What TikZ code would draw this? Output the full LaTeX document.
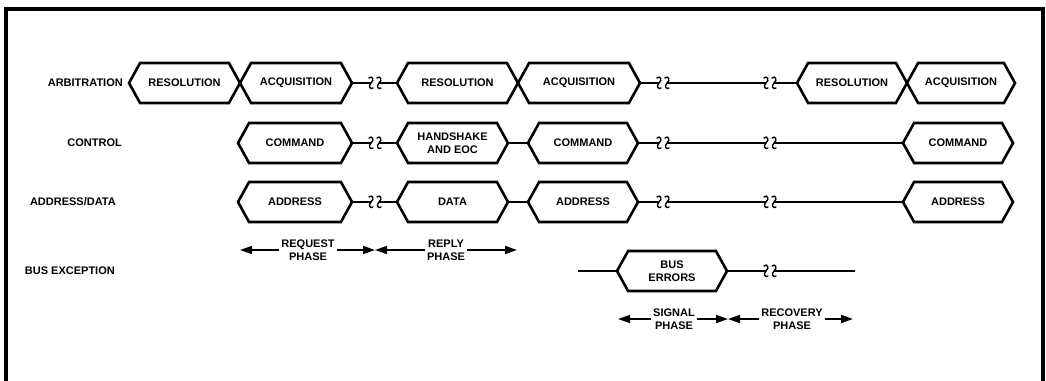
\documentclass[tikz,border=0pt]{standalone}
\usepackage{fontspec}
\setmainfont{Liberation Sans}
\usetikzlibrary{arrows.meta,positioning,shapes.symbols}
\newcommand\lbl{\fontsize{11}{13}\selectfont\bfseries}
\tikzset{
  hexbox/.style={signal, signal to=west and east, signal pointer angle=122,
                 draw, line width=2.6pt, minimum height=40, inner sep=0pt,
                 outer sep=0pt, align=center, font=\lbl},
  bus/.style={line width=1.6pt},
  rowlabel/.style={font=\lbl, anchor=east, inner sep=0pt, text depth=0pt},
  phase/.style={font=\lbl, align=center, inner sep=2pt},
  span/.style={-{Triangle[length=12pt,width=8pt]}, line width=1.6pt},
  gap/.pic={
    \draw[line width=1.4pt,line cap=round]
      (-6,-5) .. controls (-3,-8) and (0,-3) .. (-4,0)
      .. controls (-7,3) and (-5,7) .. (-2,5);
    \draw[line width=1.4pt,line cap=round]
      (2,-5) .. controls (5,-8) and (8,-3) .. (4,0)
      .. controls (1,3) and (3,7) .. (6,5);
    \coordinate (-in) at (-4,0);
    \coordinate (-out) at (4,0);
  }
}

\begin{document}
\begin{tikzpicture}[x=1pt,y=-1pt]
    \useasboundingbox (0,0) rectangle (1046,380);
    % frame, open at the bottom
    \draw[line width=4pt] (6,385) -- (6,9) -- (1042.5,9) -- (1042.5,385);

    % row labels
    \node[rowlabel] (arb) at (123,83) {ARBITRATION};
    \node[rowlabel] (ctl) at (122,143) {CONTROL};
    \node[rowlabel] (adr) at (116,202) {ADDRESS/DATA};
    \node[rowlabel] (exc) at (115,271) {BUS EXCEPTION};

    % arbitration
    \node[hexbox, minimum width=111] (res1) at (184.5,83) {RESOLUTION};
    \node[hexbox, minimum width=112, anchor=west] (acq1) at (res1.east) {ACQUISITION};
    \node[hexbox, minimum width=121] (res2) at (457.5,83) {RESOLUTION};
    \node[hexbox, minimum width=122, anchor=west] (acq2) at (res2.east) {ACQUISITION};
    \node[hexbox, minimum width=110] (res3) at (852,83) {RESOLUTION};
    \node[hexbox, minimum width=108, anchor=west] (acq3) at (res3.east) {ACQUISITION};
    \pic (ga1) at (375,83) {gap};
    \pic (ga2) at (663,83) {gap};
    \pic (ga3) at (770,83) {gap};
    \draw[bus] (acq1.east) -- (ga1-in) (ga1-out) -- (res2.west);
    \draw[bus] (acq2.east) -- (ga2-in) (ga2-out) -- (ga3-in) (ga3-out) -- (res3.west);

    % control
    \node[hexbox, minimum width=114] (cmd1) at (295,143) {COMMAND};
    \node[hexbox, minimum width=111] (hsk) at (452.5,143) {HANDSHAKE\\AND EOC};
    \node[hexbox, minimum width=110] (cmd2) at (583,143) {COMMAND};
    \node[hexbox, minimum width=110] (cmd3) at (958,143) {COMMAND};
    \pic (gc1) at (375,143) {gap};
    \pic (gc2) at (663,143) {gap};
    \pic (gc3) at (770,143) {gap};
    \draw[bus] (cmd1.east) -- (gc1-in) (gc1-out) -- (hsk.west);
    \draw[bus] (hsk.east) -- (cmd2.west);
    \draw[bus] (cmd2.east) -- (gc2-in) (gc2-out) -- (gc3-in) (gc3-out) -- (cmd3.west);

    % address/data
    \node[hexbox, minimum width=114] (adr1) at (295,202) {ADDRESS};
    \node[hexbox, minimum width=111] (dat) at (452.5,202) {DATA};
    \node[hexbox, minimum width=110] (adr2) at (583,202) {ADDRESS};
    \node[hexbox, minimum width=110] (adr3) at (958,202) {ADDRESS};
    \pic (gd1) at (375,202) {gap};
    \pic (gd2) at (663,202) {gap};
    \pic (gd3) at (770,202) {gap};
    \draw[bus] (adr1.east) -- (gd1-in) (gd1-out) -- (dat.west);
    \draw[bus] (dat.east) -- (adr2.west);
    \draw[bus] (adr2.east) -- (gd2-in) (gd2-out) -- (gd3-in) (gd3-out) -- (adr3.west);

    % request / reply
    \coordinate (reqL) at (240,250);
    \coordinate (rmid) at (375,250);
    \coordinate (repR) at (517,250);
    \node[phase] (req) at (308,250) {REQUEST\\PHASE};
    \node[phase] (rep) at (446,250) {REPLY\\PHASE};
    \draw[span] (req) -- (reqL);
    \draw[span] (req) -- (rmid);
    \draw[span] (rep) -- (rmid);
    \draw[span] (rep) -- (repR);

    % bus exception
    \coordinate (eL) at (578,271);
    \coordinate (eR) at (855,271);
    \node[hexbox, minimum width=110] (err) at (672,271) {BUS\\ERRORS};
    \pic (ge) at (770,271) {gap};
    \draw[bus] (eL) -- (err.west);
    \draw[bus] (err.east) -- (ge-in) (ge-out) -- (eR);

    % signal / recovery
    \coordinate (sigL) at (618,319);
    \coordinate (smid) at (728,319);
    \coordinate (recR) at (853,319);
    \node[phase] (sig) at (674,319) {SIGNAL\\PHASE};
    \node[phase] (rec) at (792,319) {RECOVERY\\PHASE};
    \draw[span] (sig) -- (sigL);
    \draw[span] (sig) -- (smid);
    \draw[span] (rec) -- (smid);
    \draw[span] (rec) -- (recR);
\end{tikzpicture}
\end{document}
